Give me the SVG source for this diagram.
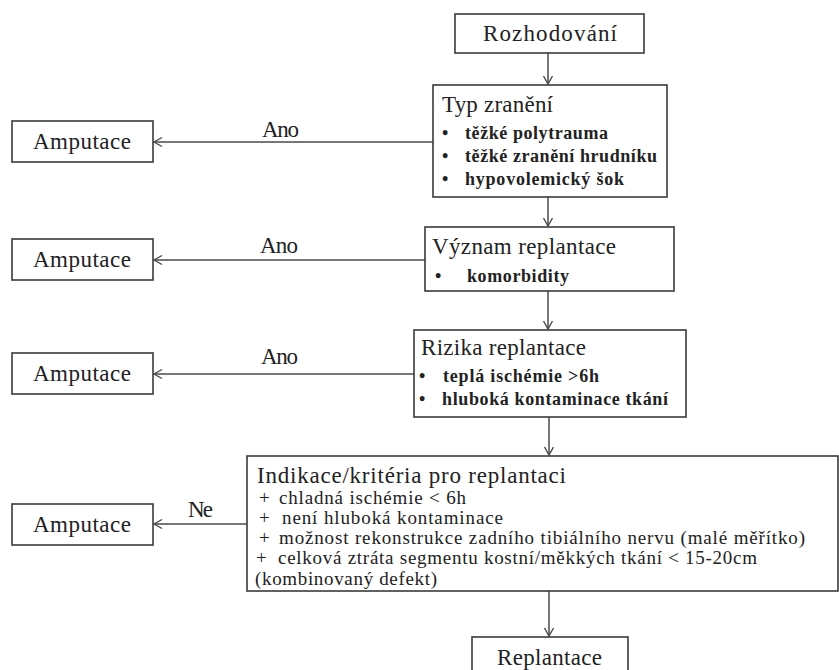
<svg xmlns="http://www.w3.org/2000/svg" width="839" height="670" viewBox="0 0 839 670">
<style>
.box{fill:#fff;stroke:#3a3a3a;stroke-width:1.6}
.c{fill:none;stroke:#4a4a4a;stroke-width:1.5}
text{font-family:"Liberation Serif","Times New Roman",serif;fill:#222}
.lbl{font-size:23px}
.hd{font-size:23px}
.it{font-size:18px;font-weight:bold}
.ind{font-size:19px}
</style>
<defs>
<marker id="arr" markerUnits="userSpaceOnUse" markerWidth="12" markerHeight="12" refX="10" refY="6" orient="auto">
<path d="M2,1.5 L10,6 L2,10.5" fill="none" stroke="#4a4a4a" stroke-width="1.4"/>
</marker>
</defs>
<g id="connectors">
<line class="c" x1="548" y1="53" x2="548" y2="84" marker-end="url(#arr)"/>
<line class="c" x1="548" y1="197" x2="548" y2="226" marker-end="url(#arr)"/>
<line class="c" x1="548" y1="291" x2="548" y2="329" marker-end="url(#arr)"/>
<line class="c" x1="549" y1="417" x2="549" y2="455" marker-end="url(#arr)"/>
<line class="c" x1="549" y1="591" x2="549" y2="636" marker-end="url(#arr)"/>
<line class="c" x1="433" y1="142" x2="154" y2="142" marker-end="url(#arr)"/>
<line class="c" x1="425" y1="260" x2="154" y2="260" marker-end="url(#arr)"/>
<line class="c" x1="414" y1="374" x2="154" y2="374" marker-end="url(#arr)"/>
<line class="c" x1="247" y1="524" x2="154" y2="524" marker-end="url(#arr)"/>
<text class="lbl" x="262" y="137" textLength="37">Ano</text>
<text class="lbl" x="260" y="253" textLength="38">Ano</text>
<text class="lbl" x="261" y="364" textLength="37">Ano</text>
<text class="lbl" x="188" y="517" textLength="25">Ne</text>
</g>
<g id="rozhodovani">
<rect class="box" x="455" y="14" width="189" height="39"/>
<text class="lbl" x="483" y="41" textLength="134">Rozhodování</text>
</g>
<g id="typ-zraneni">
<rect class="box" x="433" y="85" width="234" height="112"/>
<text class="hd" x="442" y="112" textLength="111">Typ zranění</text>
<text class="it" x="442" y="139">•</text><text class="it" x="465" y="139" textLength="143">těžké polytrauma</text>
<text class="it" x="442" y="162">•</text><text class="it" x="465" y="162" textLength="192">těžké zranění hrudníku</text>
<text class="it" x="442" y="185">•</text><text class="it" x="465" y="185" textLength="159">hypovolemický šok</text>
</g>
<g id="amputace1">
<rect class="box" x="12" y="121" width="141" height="41"/>
<text class="lbl" x="33" y="149" textLength="98">Amputace</text>
</g>
<g id="amputace2">
<rect class="box" x="12" y="239" width="141" height="41"/>
<text class="lbl" x="33" y="267" textLength="98">Amputace</text>
</g>
<g id="amputace3">
<rect class="box" x="12" y="353" width="141" height="41"/>
<text class="lbl" x="33" y="381" textLength="98">Amputace</text>
</g>
<g id="amputace4">
<rect class="box" x="12" y="504" width="141" height="41"/>
<text class="lbl" x="33" y="532" textLength="98">Amputace</text>
</g>
<g id="vyznam">
<rect class="box" x="425" y="227" width="249" height="64"/>
<text class="hd" x="432" y="254" textLength="184">Význam replantace</text>
<text class="it" x="435" y="282">•</text><text class="it" x="467" y="282" textLength="102">komorbidity</text>
</g>
<g id="rizika">
<rect class="box" x="414" y="330" width="272" height="87"/>
<text class="hd" x="421" y="355" textLength="165">Rizika replantace</text>
<text class="it" x="419" y="382">•</text><text class="it" x="443" y="382" textLength="156">teplá ischémie &gt;6h</text>
<text class="it" x="419" y="405">•</text><text class="it" x="442" y="405" textLength="226">hluboká kontaminace tkání</text>
</g>
<g id="indikace">
<rect class="box" x="247" y="456" width="591" height="135"/>
<text class="hd" x="257" y="483" textLength="309">Indikace/kritéria pro replantaci</text>
<text class="ind" x="259" y="504">+</text><text class="ind" x="279" y="504" textLength="187">chladná ischémie &lt; 6h</text>
<text class="ind" x="259" y="524">+</text><text class="ind" x="282" y="524" textLength="221">není hluboká kontaminace</text>
<text class="ind" x="259" y="544">+</text><text class="ind" x="279" y="544" textLength="526">možnost rekonstrukce zadního tibiálního nervu (malé měřítko)</text>
<text class="ind" x="256" y="564">+</text><text class="ind" x="278" y="564" textLength="479">celková ztráta segmentu kostní/měkkých tkání &lt; 15-20cm</text>
<text class="ind" x="255" y="585" textLength="182">(kombinovaný defekt)</text>
</g>
<g id="replantace">
<rect class="box" x="472" y="637" width="156" height="40"/>
<text class="lbl" x="497" y="665" textLength="105">Replantace</text>
</g>
</svg>
